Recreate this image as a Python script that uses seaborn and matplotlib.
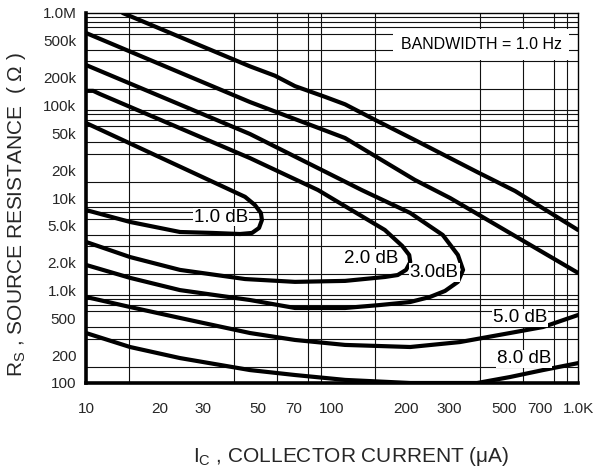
import numpy as np
import pandas as pd
import matplotlib
matplotlib.use("Agg")
import matplotlib.pyplot as plt
import seaborn as sns
from matplotlib.ticker import FixedLocator, FixedFormatter, LogLocator, NullFormatter

# ---------------- data ----------------
# collector current (uA) and source resistance (ohm) along each noise-figure contour
nf8_upper_ic = [14.1, 46.4, 58.6, 70.7, 93.7, 113, 150, 217, 389, 555, 1000]
nf8_upper_rs = [1.0e6, 265e3, 210e3, 162e3, 124e3, 103e3, 69.7e3, 42.4e3, 19.1e3, 11.9e3, 4.51e3]

nf5_upper_ic = [10, 46.4, 113, 217, 302, 1000]
nf5_upper_rs = [608e3, 109e3, 44.5e3, 15.7e3, 10e3, 1.55e3]

nf3_ic = [10, 46.4, 132, 208, 282, 325, 341, 325, 288, 250, 208, 157, 113, 70.7, 46.4, 24.1, 15.1, 10]
nf3_rs = [274e3, 49.2e3, 12.2e3, 6.89e3, 3.98e3, 2.42e3, 1.67e3, 1.24e3, 989, 851, 751, 697, 647, 647, 789, 1.01e3, 1.37e3, 1.89e3]

nf2_ic = [10, 10.7, 11.4, 46.4, 87.7, 164, 193, 206, 208, 200, 185, 164, 113, 70.7, 44.3, 24.1, 15.1, 10]
nf2_rs = [144e3, 144e3, 133e3, 27.0e3, 12.2e3, 4.51e3, 3.03e3, 2.42e3, 2.03e3, 1.67e3, 1.47e3, 1.40e3, 1.27e3, 1.24e3, 1.33e3, 1.67e3, 2.30e3, 3.35e3]

nf1_ic = [10, 44.3, 48.6, 51.4, 51.9, 50.5, 47.3, 42.3, 32.8, 24.1, 15.1, 10]
nf1_rs = [64.7e3, 10.3e3, 8.40e3, 6.89e3, 5.78e3, 4.74e3, 4.19e3, 4.08e3, 4.19e3, 4.29e3, 5.51e3, 7.41e3]

nf5_lower_ic = [10, 15.1, 24.1, 46.4, 70.7, 113, 208, 331, 529, 721, 1000]
nf5_lower_rs = [851, 663, 505, 347, 292, 258, 245, 277, 347, 403, 543]

nf8_lower_ic = [10, 15.1, 24.1, 46.4, 70.7, 113, 208, 389, 529, 721, 1000]
nf8_lower_rs = [347, 245, 186, 138, 122, 108, 100, 100, 116, 138, 164]

# curve labels and where they sit
label_text = ["1.0 dB", "2.0 dB", "3.0dB", "5.0 dB", "8.0 dB"]
label_ic = [35.4, 144, 260, 581, 603]
label_rs = [6.23e3, 2.24e3, 1.55e3, 505, 182]

x_ticks = [10, 20, 30, 50, 70, 100, 200, 300, 500, 700, 1000]
x_ticklabels = ["10", "20", "30", "50", "70", "100", "200", "300", "500", "700", "1.0K"]
y_ticks = [100, 200, 500, 1e3, 2e3, 5e3, 1e4, 2e4, 5e4, 1e5, 2e5, 5e5, 1e6]
y_ticklabels = ["100", "200", "500", "1.0k", "2.0k", "5.0k", "10k", "20k", "50k",
                "100k", "200k", "500k", "1.0M"]

curves = {
    "8 dB upper": (nf8_upper_ic, nf8_upper_rs),
    "5 dB upper": (nf5_upper_ic, nf5_upper_rs),
    "3 dB": (nf3_ic, nf3_rs),
    "2 dB": (nf2_ic, nf2_rs),
    "1 dB": (nf1_ic, nf1_rs),
    "5 dB lower": (nf5_lower_ic, nf5_lower_rs),
    "8 dB lower": (nf8_lower_ic, nf8_lower_rs),
}
frames = []
for name, (ic, rs) in curves.items():
    frames.append(pd.DataFrame({"curve": name, "ic": ic, "rs": rs}))
df = pd.concat(frames, ignore_index=True)

# ---------------- style ----------------
sns.set_style("white")
plt.rcParams["font.family"] = ["Liberation Sans", "DejaVu Sans"]
plt.rcParams["mathtext.fontset"] = "custom"
plt.rcParams["mathtext.rm"] = "Liberation Sans"
plt.rcParams["mathtext.it"] = "Liberation Sans"

fig = plt.figure(figsize=(6.1, 4.76), dpi=100)
ax = fig.add_axes([86 / 610, 1 - 383 / 476, 492 / 610, 370 / 476])
ax.set_xscale("log")
ax.set_yscale("log")

sns.lineplot(data=df, x="ic", y="rs", units="curve", estimator=None, sort=False,
             color="black", linewidth=3.0, ax=ax, legend=False,
             solid_joinstyle="round", solid_capstyle="round")

ax.set_xlim(10, 1000)
ax.set_ylim(100, 1e6)
ax.set_xlabel("")
ax.set_ylabel("")

# grid (1, 1.5, 2 ... 9 in every decade)
subs = [1.0, 1.5, 2, 3, 4, 5, 6, 7, 8, 9]
ax.xaxis.set_minor_locator(LogLocator(base=10, subs=subs, numticks=100))
ax.yaxis.set_minor_locator(LogLocator(base=10, subs=subs, numticks=100))
ax.xaxis.set_minor_formatter(NullFormatter())
ax.yaxis.set_minor_formatter(NullFormatter())
ax.xaxis.set_major_locator(FixedLocator(x_ticks))
ax.xaxis.set_major_formatter(FixedFormatter(x_ticklabels))
ax.yaxis.set_major_locator(FixedLocator(y_ticks))
ax.yaxis.set_major_formatter(FixedFormatter(y_ticklabels))
ax.grid(which="minor", color="#111111", linewidth=0.8)
ax.grid(which="major", visible=False)
ax.set_axisbelow(True)

ax.tick_params(axis="both", which="both", length=0)
ax.tick_params(axis="x", which="major", pad=14, labelsize=11)
ax.tick_params(axis="y", which="major", pad=7, labelsize=11)

for side in ["top", "right"]:
    ax.spines[side].set_linewidth(1.0)
    ax.spines[side].set_color("black")
for side in ["left", "bottom"]:
    ax.spines[side].set_linewidth(2.6)
    ax.spines[side].set_color("black")

for t, xi, yi in zip(label_text, label_ic, label_rs):
    ax.text(xi, yi, t, ha="center", va="center", fontsize=13.5, color="black",
            bbox=dict(boxstyle="square,pad=0.05", fc="white", ec="none"), zorder=5)

ax.text(0.803, 0.916, "BANDWIDTH = 1.0 Hz", transform=ax.transAxes,
        ha="center", va="center", fontsize=11.5, color="black",
        bbox=dict(boxstyle="square,pad=0.5", fc="white", ec="none"), zorder=5)

fig.text(351 / 610, 1 - 457 / 476, r"I$_{\mathregular{C}}$ , COLLECTOR CURRENT (μA)",
         ha="center", va="center", fontsize=15)
fig.text(17 / 610, 1 - 215 / 476, r"R$_{\mathregular{S}}$ , SOURCE RESISTANCE  ( Ω )",
         ha="center", va="center", rotation=90, fontsize=15)

fig.savefig("out.png", dpi=100)
